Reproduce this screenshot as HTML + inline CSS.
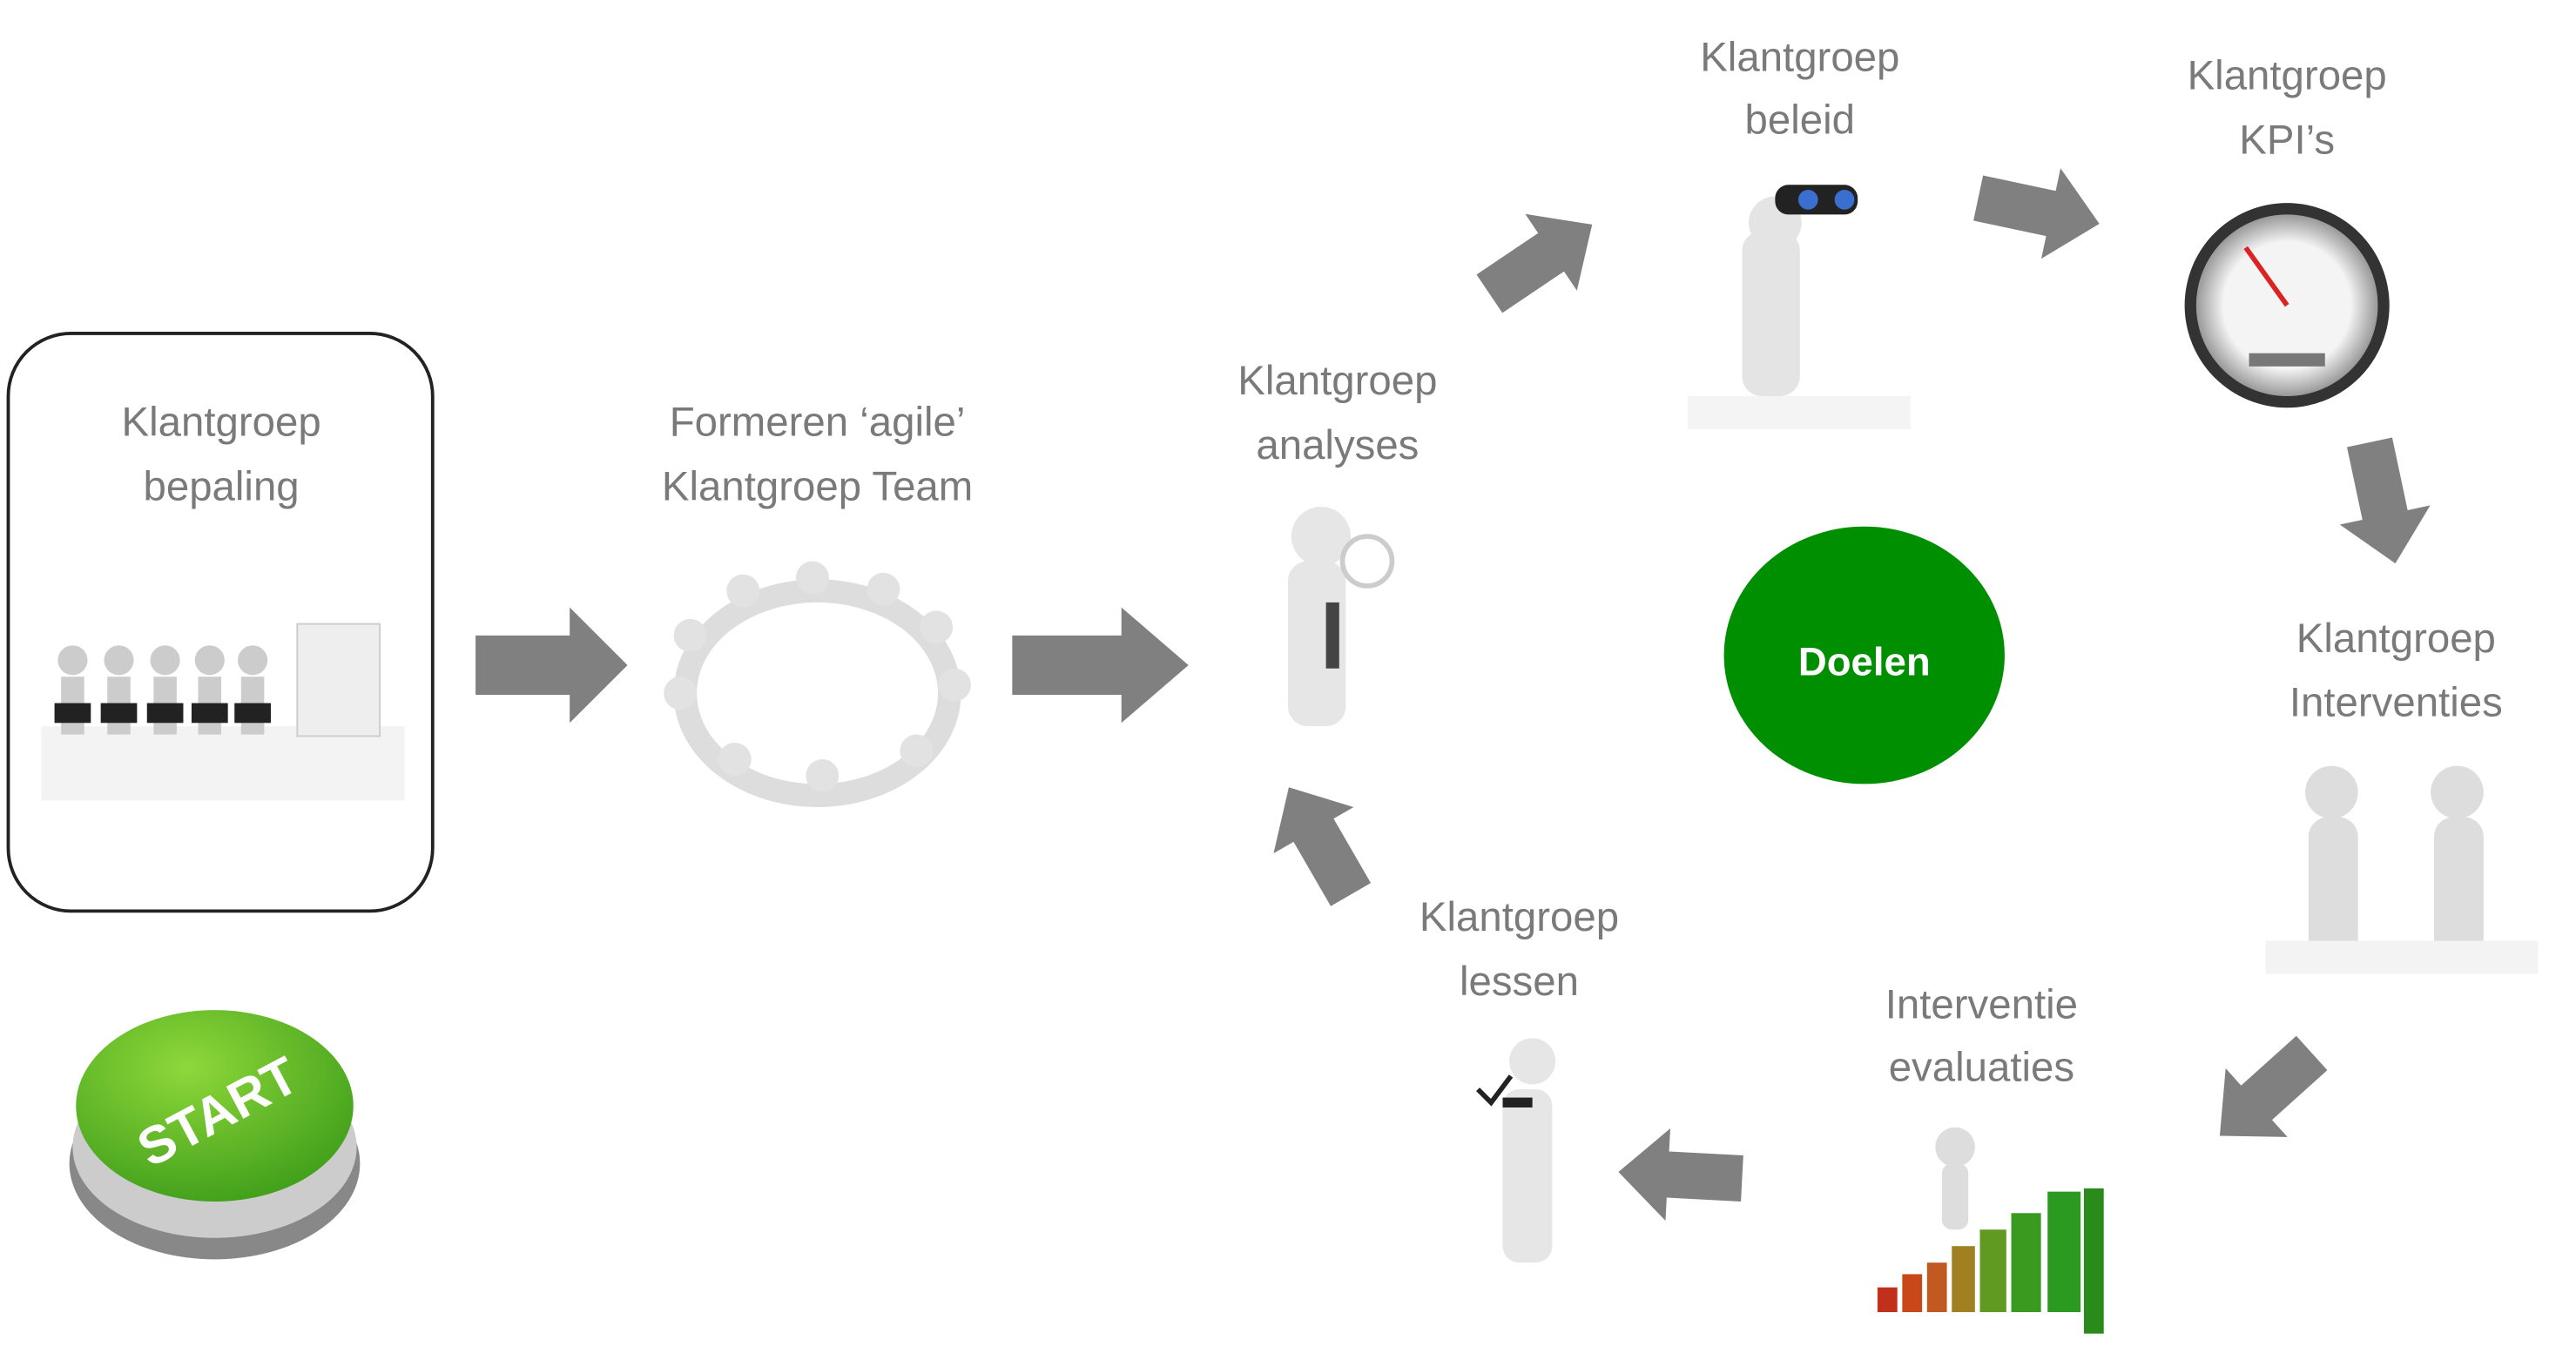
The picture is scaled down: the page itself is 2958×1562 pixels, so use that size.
<!DOCTYPE html>
<html><head><meta charset="utf-8"><style>
html,body{margin:0;padding:0;background:#fff;}
svg{display:block}
text{font-family:"Liberation Sans",sans-serif;}
.l{fill:#7a7a7a;font-size:25px;text-anchor:middle}
.ar{fill:#808080}
.fig{fill:#e4e4e4;stroke:#cfcfcf;stroke-width:1}
</style></head><body>
<svg width="2958" height="1562" viewBox="0 0 1560 824" preserveAspectRatio="none" xmlns="http://www.w3.org/2000/svg">
<defs>
<polygon id="arw" points="0,-18 57,-18 57,-35 92,0 57,35 57,18 0,18"/>
<polygon id="arws" points="0,-14 45,-14 45,-28 75,0 45,28 45,14 0,14"/>
<radialGradient id="gg" cx="0.4" cy="0.3" r="0.8"><stop offset="0" stop-color="#8ed83a"/><stop offset="1" stop-color="#3a9a18"/></radialGradient>
<radialGradient id="dial" cx="0.5" cy="0.5" r="0.5"><stop offset="0.7" stop-color="#f4f4f4"/><stop offset="1" stop-color="#999"/></radialGradient>
</defs>
<rect x="5" y="202" width="257" height="350" rx="38" fill="#fff" stroke="#222" stroke-width="2"/>
<text class="l" x="134" y="264">Klantgroep</text><text class="l" x="134" y="303">bepaling</text>
<text class="l" x="495" y="264">Formeren ‘agile’</text><text class="l" x="495" y="303">Klantgroep Team</text>
<text class="l" x="810" y="239">Klantgroep</text><text class="l" x="810" y="278">analyses</text>
<text class="l" x="1090" y="43">Klantgroep</text><text class="l" x="1090" y="81">beleid</text>
<text class="l" x="1385" y="54">Klantgroep</text><text class="l" x="1385" y="93">KPI’s</text>
<text class="l" x="1451" y="395">Klantgroep</text><text class="l" x="1451" y="434">Interventies</text>
<text class="l" x="1200" y="617">Interventie</text><text class="l" x="1200" y="655">evaluaties</text>
<text class="l" x="920" y="564">Klantgroep</text><text class="l" x="920" y="603">lessen</text>
<!-- arrows -->
<use href="#arw" class="ar" transform="translate(288,403)"/>
<use href="#arw" class="ar" transform="translate(613,403) scale(1.16,1)"/>
<use href="#arws" class="ar" transform="translate(902,178) rotate(-34)"/>
<use href="#arws" class="ar" transform="translate(1198,120) rotate(12)"/>
<use href="#arws" class="ar" transform="translate(1435,268) rotate(78)"/>
<use href="#arws" class="ar" transform="translate(1400,638) rotate(138)"/>
<use href="#arws" class="ar" transform="translate(1055,714) rotate(183)"/>
<use href="#arws" class="ar" transform="translate(818,542) rotate(-120)"/>
<!-- Doelen -->
<ellipse cx="1129" cy="397" rx="85" ry="78" fill="#008f00"/>
<text x="1129" y="409" fill="#fff" font-size="24" font-weight="bold" text-anchor="middle">Doelen</text>
<!-- start button -->
<ellipse cx="130" cy="705" rx="88" ry="58" fill="#888"/>
<ellipse cx="130" cy="695" rx="86" ry="55" fill="#ccc"/>
<ellipse cx="130" cy="670" rx="84" ry="58" fill="url(#gg)"/>
<text x="130" y="685" fill="#fff" font-size="32" font-weight="bold" text-anchor="middle" transform="rotate(-28 130 670)">START</text>
<!-- box figures -->
<rect x="25" y="440" width="220" height="45" fill="#f3f3f3"/>
<g fill="#ccc"><circle cx="44" cy="400" r="9"/><circle cx="72" cy="400" r="9"/><circle cx="100" cy="400" r="9"/><circle cx="127" cy="400" r="9"/><circle cx="153" cy="400" r="9"/>
<rect x="37" y="410" width="14" height="35"/><rect x="65" y="410" width="14" height="35"/><rect x="93" y="410" width="14" height="35"/><rect x="120" y="410" width="14" height="35"/><rect x="146" y="410" width="14" height="35"/></g>
<g fill="#222"><rect x="33" y="426" width="22" height="12"/><rect x="61" y="426" width="22" height="12"/><rect x="89" y="426" width="22" height="12"/><rect x="116" y="426" width="22" height="12"/><rect x="142" y="426" width="22" height="12"/></g>
<rect x="180" y="378" width="50" height="68" fill="#eee" stroke="#ccc"/>
<!-- circle of people -->
<ellipse cx="495" cy="420" rx="80" ry="62" fill="none" stroke="#ddd" stroke-width="14"/>
<g fill="#e2e2e2"><circle cx="492" cy="350" r="10"/><circle cx="535" cy="357" r="10"/><circle cx="567" cy="380" r="10"/><circle cx="578" cy="415" r="10"/><circle cx="555" cy="455" r="10"/><circle cx="498" cy="470" r="10"/><circle cx="445" cy="460" r="10"/><circle cx="412" cy="420" r="10"/><circle cx="418" cy="385" r="10"/><circle cx="450" cy="358" r="10"/></g>
<!-- analyses figure -->
<circle cx="800" cy="325" r="18" fill="#e6e6e6"/><rect x="780" y="340" width="35" height="100" rx="12" fill="#e6e6e6"/>
<circle cx="828" cy="340" r="15" fill="none" stroke="#ccc" stroke-width="3"/><rect x="803" y="365" width="8" height="40" fill="#444"/>
<!-- binocular figure -->
<circle cx="1075" cy="135" r="16" fill="#e4e4e4"/><rect x="1055" y="140" width="35" height="100" rx="12" fill="#e4e4e4"/>
<rect x="1075" y="112" width="50" height="18" rx="8" fill="#222"/><circle cx="1095" cy="121" r="6" fill="#3a6fd0"/><circle cx="1117" cy="121" r="6" fill="#3a6fd0"/>
<rect x="1022" y="240" width="135" height="20" fill="#f4f4f4"/>
<!-- speedometer -->
<circle cx="1385" cy="185" r="62" fill="#333"/><circle cx="1385" cy="185" r="55" fill="url(#dial)"/>
<line x1="1385" y1="185" x2="1360" y2="150" stroke="#d22" stroke-width="3"/><rect x="1362" y="214" width="46" height="8" fill="#777"/>
<!-- handshake -->
<g fill="#ddd"><circle cx="1412" cy="480" r="16"/><rect x="1398" y="495" width="30" height="85" rx="12"/><circle cx="1488" cy="480" r="16"/><rect x="1474" y="495" width="30" height="85" rx="12"/></g>
<rect x="1372" y="570" width="165" height="20" fill="#f3f3f3"/>
<!-- lessen figure -->
<circle cx="928" cy="643" r="14" fill="#e6e6e6"/><rect x="910" y="660" width="30" height="105" rx="10" fill="#e6e6e6"/>
<path d="M895 660 l8 8 l12 -16" stroke="#222" stroke-width="3" fill="none"/><rect x="910" y="665" width="18" height="6" fill="#222"/>
<!-- bar chart -->
<g><rect x="1137" y="780" width="12" height="15" fill="#c0301a"/><rect x="1152" y="772" width="12" height="23" fill="#c8481a"/><rect x="1167" y="765" width="12" height="30" fill="#c05a20"/><rect x="1182" y="755" width="14" height="40" fill="#a08020"/><rect x="1199" y="745" width="16" height="50" fill="#609a20"/><rect x="1218" y="735" width="18" height="60" fill="#3a9a20"/><rect x="1240" y="722" width="20" height="73" fill="#2a9a20"/><rect x="1262" y="720" width="12" height="88" fill="#2a8a1a"/></g>
<circle cx="1184" cy="695" r="12" fill="#ddd"/><rect x="1176" y="705" width="16" height="40" rx="6" fill="#ddd"/>
</svg>
</body></html>
